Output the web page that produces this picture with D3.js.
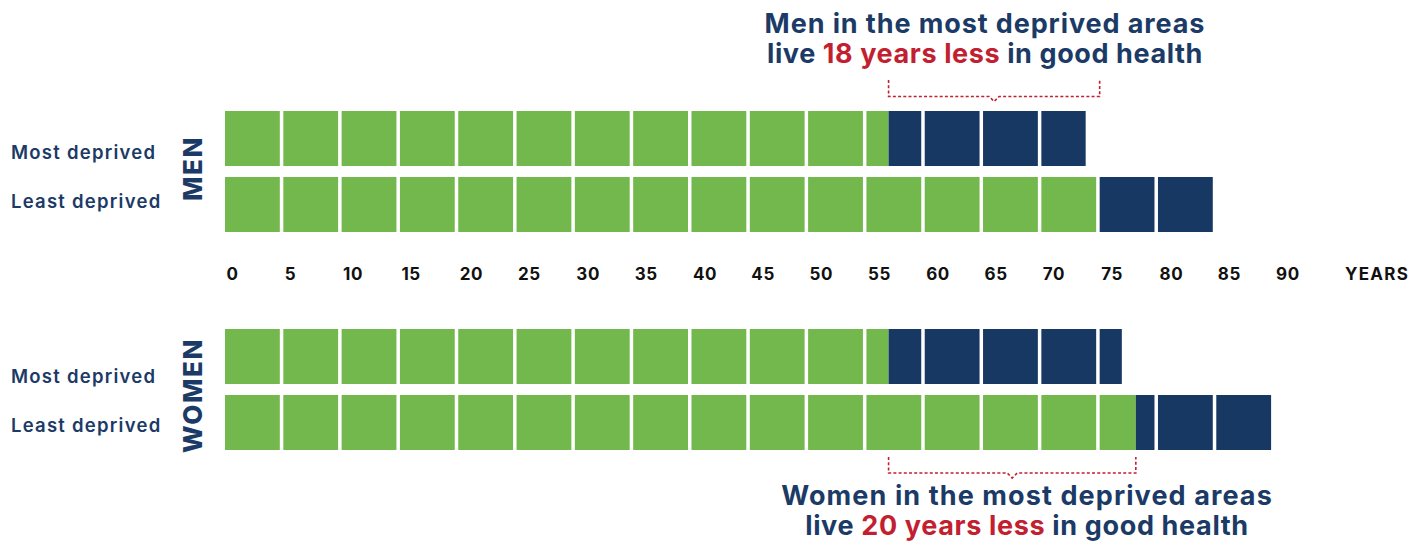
<!DOCTYPE html>
<html>
<head>
<meta charset="utf-8">
<script src="https://cdn.jsdelivr.net/npm/d3@7"></script>
<style>
  html, body { margin: 0; padding: 0; background: #fff; }
  svg { display: block; }
  text { font-family: "Inter", "Open Sans", sans-serif; }
</style>
</head>
<body>
<svg id="chart" width="1427" height="542"></svg>
<script>
// ---- Data (years) ----
const groups = ["MEN", "WOMEN"];
const rowLabels = ["Most deprived", "Least deprived"];
const menHealthy = [56.9, 75];      // healthy life expectancy (green)
const menTotal = [73.8, 85];        // total life expectancy
const womenHealthy = [56.9, 78.1];
const womenTotal = [76.9, 90];
const tickValues = [0, 5, 10, 15, 20, 25, 30, 35, 40, 45, 50, 55, 60, 65, 70, 75, 80, 85, 90];
const axisTitle = "YEARS";
const menNote = ["Men in the most deprived areas", "live ", "18 years less", " in good health"];
const womenNote = ["Women in the most deprived areas", "live ", "20 years less", " in good health"];

// ---- Styles ----
const GREEN = "#72b84c", NAVY = "#173863", RED = "#c21f30", TEXT = "#1b3a66";
const GAP = 3.5;

const svg = d3.select("#chart");
const x = d3.scaleLinear().domain([0, 90]).range([225, 1274.6]);

const groupTops = { MEN: 111, WOMEN: 329 };
const groupData = {
  MEN: { healthy: menHealthy, total: menTotal },
  WOMEN: { healthy: womenHealthy, total: womenTotal }
};

function drawRow(g, y0, h, healthy, total) {
  const blocks = d3.range(0, total, 5);
  const segs = [];
  blocks.forEach(b => {
    const s = x(b);
    const e = Math.min(x(b + 5) - GAP, x(total));
    const hx = x(healthy);
    if (healthy > b) segs.push({ x0: s, x1: Math.min(e, hx), c: GREEN });
    if (hx < e) segs.push({ x0: Math.max(s, hx), x1: e, c: NAVY });
  });
  g.selectAll(null).data(segs).join("rect")
    .attr("x", d => d.x0).attr("y", y0)
    .attr("width", d => Math.max(0, d.x1 - d.x0)).attr("height", h)
    .attr("fill", d => d.c);
}

groups.forEach(gName => {
  const y = d3.scaleBand().domain(rowLabels)
    .range([groupTops[gName], groupTops[gName] + 121]).paddingInner(11 / 66);
  const g = svg.append("g");
  rowLabels.forEach((r, i) => {
    drawRow(g, y(r), y.bandwidth(), groupData[gName].healthy[i], groupData[gName].total[i]);
  });
});

// Row labels
const labelBaselines = { MEN: [159, 208], WOMEN: [383, 432] };
groups.forEach(gName => {
  rowLabels.forEach((r, i) => {
    svg.append("text").attr("x", 11).attr("y", labelBaselines[gName][i])
      .attr("fill", TEXT).attr("font-size", 18.5).attr("font-weight", 600)
      .attr("letter-spacing", 1.25)
      .text(r);
  });
});

// Group labels (vertical)
const groupCenters = { MEN: 168.5, WOMEN: 395.5 };
groups.forEach(gName => {
  svg.append("text")
    .attr("transform", `translate(202,${groupCenters[gName]}) rotate(-90)`)
    .attr("text-anchor", "middle")
    .attr("fill", TEXT).attr("font-size", 26).attr("font-weight", 800)
    .attr("letter-spacing", 1.6)
    .text(gName);
});

// Axis
const axis = d3.axisBottom(x).tickValues(tickValues).tickSize(0).tickPadding(0);
const ag = svg.append("g").attr("transform", "translate(0,268)").call(axis);
ag.select(".domain").remove();
ag.selectAll("text")
  .attr("text-anchor", "start").attr("x", 1).attr("y", 0).attr("dy", "0.72em")
  .attr("fill", "#111").attr("font-size", 17).attr("font-weight", 700)
  .attr("letter-spacing", 0.6)
  .style("font-family", "Inter, 'Open Sans', sans-serif");
svg.append("text").attr("x", 1345).attr("y", 268).attr("dy", "0.72em")
  .attr("fill", "#111").attr("font-size", 17).attr("font-weight", 700)
  .attr("letter-spacing", 1.3)
  .text(axisTitle);

// Annotations
function note(lines, cx, y1, y2, ls1, ls2) {
  svg.append("text").attr("x", cx).attr("y", y1).attr("text-anchor", "middle")
    .attr("fill", TEXT).attr("font-size", 27).attr("font-weight", 700)
    .attr("letter-spacing", ls1)
    .text(lines[0]);
  const t = svg.append("text").attr("x", cx).attr("y", y2).attr("text-anchor", "middle")
    .attr("fill", TEXT).attr("font-size", 27).attr("font-weight", 700)
    .attr("letter-spacing", ls2);
  t.append("tspan").text(lines[1]);
  t.append("tspan").attr("fill", RED).text(lines[2]);
  t.append("tspan").text(lines[3]);
}
note(menNote, 985, 33, 63, 0.9, 0.6);
note(womenNote, 1027, 505, 535, 1.1, 0.65);

// Brackets
function bracket(v0, v1, yTop, yLine) {
  const x0 = x(v0), x1 = x(v1), cx = (x0 + x1) / 2;
  const p = d3.path();
  p.moveTo(x0, yTop); p.lineTo(x0, yLine);
  p.lineTo(cx - 5, yLine); p.lineTo(cx, yLine + 5); p.lineTo(cx + 5, yLine);
  p.lineTo(x1, yLine); p.lineTo(x1, yTop);
  svg.append("path").attr("d", p.toString()).attr("fill", "none")
    .attr("stroke", RED).attr("stroke-width", 1.6).attr("stroke-dasharray", "3,2.2");
}
bracket(menHealthy[0], menHealthy[1], 80, 96.5);
bracket(womenHealthy[0], womenHealthy[1], 457, 473);
</script>
</body>
</html>
